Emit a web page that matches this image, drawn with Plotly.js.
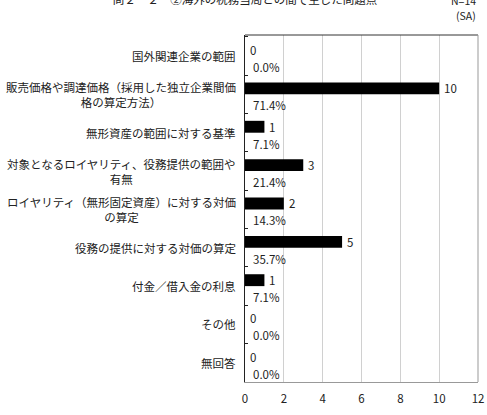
<!DOCTYPE html>
<html><head><meta charset="utf-8">
<script src="https://cdn.plot.ly/plotly-3.0.1.min.js"></script>
<style>html,body{margin:0;padding:0;background:#fff;}#chart{width:487px;height:415px;}</style>
</head><body><div id="chart"></div>
<script>
const categories = [
  "国外関連企業の範囲",
  "販売価格や調達価格（採用した独立企業間価<br>格の算定方法）",
  "無形資産の範囲に対する基準",
  "対象となるロイヤリティ、役務提供の範囲や<br>有無",
  "ロイヤリティ（無形固定資産）に対する対価<br>の算定",
  "役務の提供に対する対価の算定",
  "付金／借入金の利息",
  "その他",
  "無回答"
];
const counts = [0, 10, 1, 3, 2, 5, 1, 0, 0];
const percents = ["0.0%", "71.4%", "7.1%", "21.4%", "14.3%", "35.7%", "7.1%", "0.0%", "0.0%"];
const xTicks = [0, 2, 4, 6, 8, 10, 12];

const FONT = "'Noto Sans CJK JP', 'Noto Sans', sans-serif";
const TXT = "#222";

const annotations = [];
categories.forEach((c, i) => {
  annotations.push({x: 0, xref: "paper", y: c, yref: "y", text: c, showarrow: false,
    xanchor: "right", align: "center", xshift: -7, font: {family: FONT, size: 11.5, color: TXT}});
  annotations.push({x: counts[i], y: c, text: String(counts[i]), showarrow: false,
    xanchor: "left", yanchor: "middle", xshift: 3, yshift: 6, font: {family: FONT, size: 11.5, color: TXT}});
  annotations.push({x: 0, y: c, text: percents[i], showarrow: false,
    xanchor: "left", yanchor: "middle", xshift: 6, yshift: -11, font: {family: FONT, size: 11.5, color: TXT}});
});
annotations.push({x: 1, xref: "paper", y: 1, yref: "paper", text: "N=14", showarrow: false,
  xanchor: "right", yanchor: "middle", yshift: 35, font: {family: FONT, size: 10.5, color: TXT}});
annotations.push({x: 1, xref: "paper", y: 1, yref: "paper", text: "(SA)", showarrow: false,
  xanchor: "right", yanchor: "middle", yshift: 20, font: {family: FONT, size: 10.5, color: TXT}});

const data = [{
  type: "bar", orientation: "h", x: counts, y: categories,
  width: 0.31, offset: -0.31,
  marker: {color: "#000", line: {width: 0}},
  hoverinfo: "none"
}];

const layout = {
  width: 487, height: 415,
  margin: {l: 245, r: 9, t: 35, b: 33},
  paper_bgcolor: "#fff", plot_bgcolor: "#fff",
  showlegend: false,
  title: {text: "問２－２　②海外の税務当局との間で生じた問題点", x: 0.503, xanchor: "center",
    y: 1, yref: "container", yanchor: "middle", pad: {t: 0, b: 0},
    font: {family: FONT, size: 11.5, color: TXT}},
  xaxis: {range: [0, 12], tickvals: xTicks, ticktext: xTicks.map(String),
    showgrid: true, gridcolor: "#d0d0d0", gridwidth: 1, zeroline: false,
    showline: true, linecolor: "#999", linewidth: 1, ticks: "", ticklabelstandoff: 6,
    tickfont: {family: FONT, size: 11.5, color: TXT}, fixedrange: true},
  yaxis: {autorange: "reversed", showticklabels: false, showgrid: false, zeroline: false,
    showline: true, linecolor: "#222", linewidth: 1, ticks: "inside", tickson: "boundaries",
    ticklen: 3, tickcolor: "#222", fixedrange: true},
  shapes: [
    {type: "line", xref: "paper", yref: "paper", x0: 0, x1: 1, y0: 1, y1: 1, line: {color: "#333", width: 1}},
    {type: "line", xref: "paper", yref: "paper", x0: 1, x1: 1, y0: 0, y1: 1, line: {color: "#999", width: 1}}
  ],
  annotations: annotations
};

Plotly.newPlot("chart", data, layout, {displayModeBar: false, staticPlot: true});
</script>
</body></html>
